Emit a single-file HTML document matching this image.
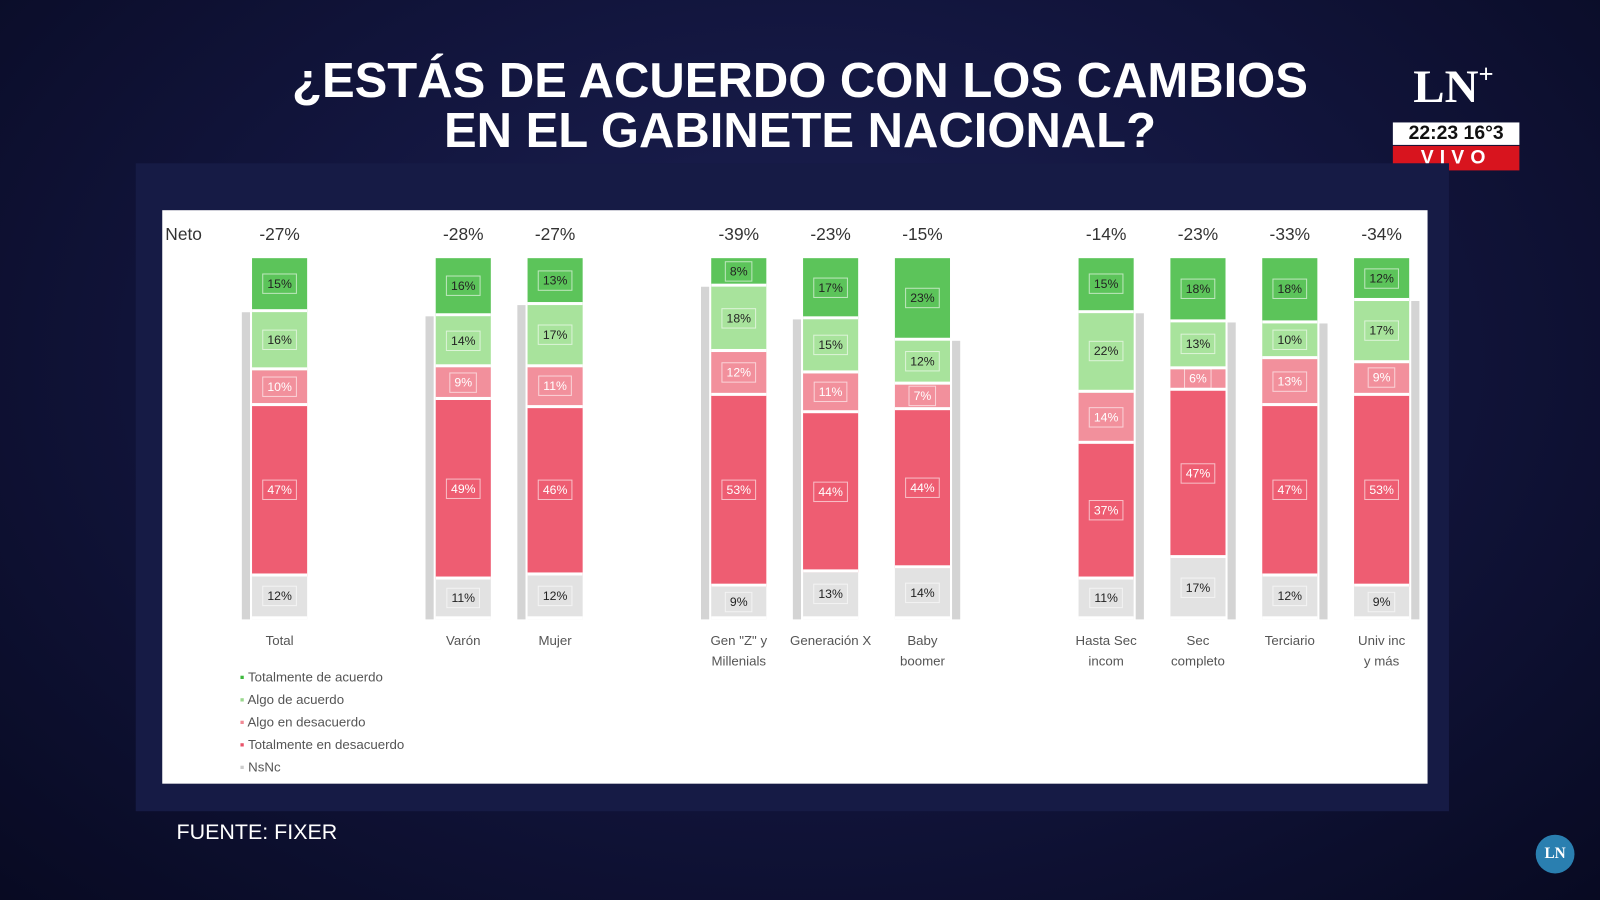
<!DOCTYPE html>
<html><head><meta charset="utf-8">
<style>
html,body{margin:0;padding:0;width:1600px;height:900px;overflow:hidden;background:#0b0d2a;}
#w{position:absolute;left:0;top:0;width:1568px;height:882px;transform:scale(1.02041);transform-origin:0 0;
background:radial-gradient(ellipse at 50% 40%,#1d2255 0%,#12153d 50%,#080a22 100%);font-family:"Liberation Sans",sans-serif;overflow:hidden;}
.t{position:absolute;left:0;width:1568px;text-align:center;color:#fff;font-weight:bold;font-size:48px;letter-spacing:0px;}
#frame{position:absolute;left:133px;top:160px;width:1287px;height:635px;background:#161b45;}
#panel{position:absolute;left:159px;top:206px;width:1240px;height:562px;background:#fff;}
.abs{position:absolute;}
.seg{position:absolute;box-sizing:border-box;border-bottom:3px solid #fff;}
.lab{position:absolute;left:50%;top:50%;transform:translate(-50%,-50%);font-size:12px;padding:2px 4px;border:1px solid rgba(255,255,255,.6);color:#222;}
.neto{position:absolute;font-size:17px;color:#333;width:80px;text-align:center;}
.cat{position:absolute;font-size:13px;color:#555;width:90px;text-align:center;line-height:20px;}
.leg{position:absolute;left:235px;font-size:13px;color:#555;}
</style></head><body><div id="w">
<div class="t" style="top:52px">¿ESTÁS DE ACUERDO CON LOS CAMBIOS</div>
<div class="t" style="top:101px">EN EL GABINETE NACIONAL?</div>
<div class="abs" style="left:1385px;top:58px;color:#fff;font:bold 46px 'Liberation Serif',serif;">LN<span style="font-size:26px;vertical-align:top">+</span></div>
<div class="abs" style="left:1365px;top:120px;width:124px;height:22px;background:#fff;color:#111;font:bold 19px 'Liberation Sans',sans-serif;text-align:center;line-height:22px;">22:23 16°3</div>
<div class="abs" style="left:1365px;top:143px;width:124px;height:24px;background:#d8141e;color:#fff;font:bold 19px 'Liberation Sans',sans-serif;text-align:center;line-height:24px;letter-spacing:6px;">VIVO</div>
<div id="frame"></div>
<div id="panel"></div>
<div class="abs" style="left:162px;top:220px;font-size:17px;color:#333;">Neto</div>
<div id="bars"></div>
<div class="leg" style="top:656px"><span style="color:#3db83d">▪</span> Totalmente de acuerdo</div>
<div class="leg" style="top:678px"><span style="color:#9ad88e">▪</span> Algo de acuerdo</div>
<div class="leg" style="top:700px"><span style="color:#f08a96">▪</span> Algo en desacuerdo</div>
<div class="leg" style="top:722px"><span style="color:#e9546a">▪</span> Totalmente en desacuerdo</div>
<div class="leg" style="top:744px"><span style="color:#ccc">▪</span> NsNc</div>
<div class="abs" style="left:173px;top:804px;color:#fff;font-size:21px;">FUENTE: FIXER</div>
<div class="abs" style="left:1505px;top:818px;width:38px;height:38px;border-radius:50%;background:#2a7fb0;color:#fff;font:bold 15px 'Liberation Serif',serif;text-align:center;line-height:38px;">LN</div>
</div>
<script>
var d=[[274,'-27%',[15,16,10,47,12],'Total',1],[454,'-28%',[16,14,9,49,11],'Varón',1],[544,'-27%',[13,17,11,46,12],'Mujer',1],
[724,'-39%',[8,18,12,53,9],'Gen "Z" y<br>Millenials',1],[814,'-23%',[17,15,11,44,13],'Generación X',1],[904,'-15%',[23,12,7,44,14],'Baby<br>boomer',0],
[1084,'-14%',[15,22,14,37,11],'Hasta Sec<br>incom',0],[1174,'-23%',[18,13,6,47,17],'Sec<br>completo',0],[1264,'-33%',[18,10,13,47,12],'Terciario',0],[1354,'-34%',[12,17,9,53,9],'Univ inc<br>y más',0]];
var cols=['#5cc45a','#a8e39c','#f2909c','#ee5d72','#e2e2e2'];
var h='';
d.forEach(function(b){
 var x=b[0]-27,s=b[2].reduce(function(a,c){return a+c},0),y=253,H=354;
 var y2=253+H*b[2][0]/s;
 var gx=b[4]?x-10:x+56;
 h+='<div class="abs" style="left:'+gx+'px;top:'+y2+'px;width:8px;height:'+(607-y2)+'px;background:#d4d4d4"></div>';
 b[2].forEach(function(v,i){var hh=H*v/s;
  h+='<div class="seg" style="left:'+x+'px;top:'+y+'px;width:54px;height:'+hh+'px;background:'+cols[i]+'"><span class="lab" style="'+(i==2||i==3?'color:#fff;':'')+'">'+v+'%</span></div>';y+=hh;});
 h+='<div class="neto" style="left:'+(b[0]-40)+'px;top:220px">'+b[1]+'</div>';
 h+='<div class="cat" style="left:'+(b[0]-45)+'px;top:618px">'+b[3]+'</div>';
});
document.getElementById('bars').innerHTML=h;
</script>
</body></html>
